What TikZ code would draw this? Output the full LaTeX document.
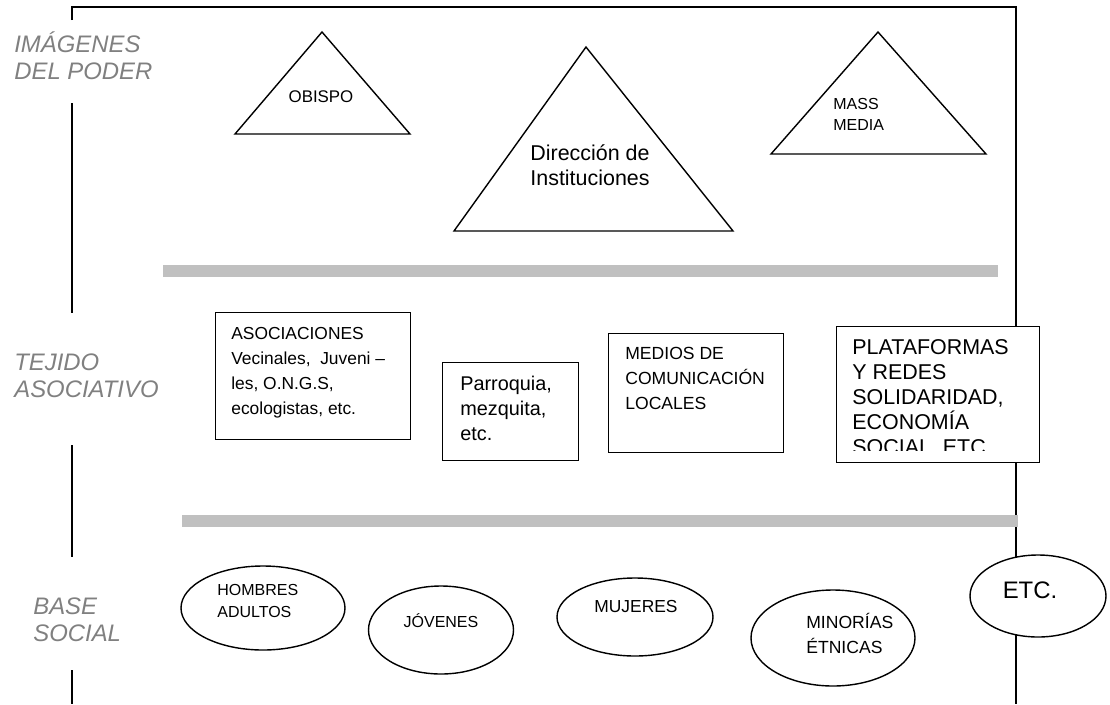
\documentclass[tikz,border=0pt]{standalone}
\usepackage{fontspec}
\setmainfont{Liberation Sans}
\usetikzlibrary{shapes.geometric}
\definecolor{barra}{RGB}{192,192,192}
\definecolor{etiq}{RGB}{128,128,128}
\newcommand{\pxu}{0.02cm}
\newcommand{\tam}[2]{\fontsize{#1pt}{#2pt}\selectfont}

\begin{document}
\begin{tikzpicture}[x=0.02cm,y=-0.02cm,
    caja/.style={draw,fill=white,line width=0.8pt,inner sep=0pt,anchor=north west},
    globo/.style={draw,fill=white,ellipse,line width=0.8pt,inner sep=0pt},
    nivel/.style={font=\tam{13.6}{15.3}\itshape,text=etiq,align=left,anchor=west,inner sep=0pt},
    texto/.style={inner sep=0pt,align=left}]
                \useasboundingbox (0,0) rectangle (1110,704);
                %frame
                \draw[line width=0.6pt] (72,20) -- (72,7) -- (1016,7) -- (1016,704);
                \draw[line width=0.8pt] (72,103) -- (72,313)
                                        (72,445) -- (72,557)
                                        (72,670) -- (72,704);
                %levels
                \node[nivel] (poder) at (14,56) {IMÁGENES\\DEL PODER};
                \node[nivel] (tejido) at (14,376) {TEJIDO\\ASOCIATIVO};
                \node[nivel] (base) at (33,620) {BASE\\SOCIAL};
                %triangles
                \draw[line width=0.8pt] (322,32) -- (410,134) -- (235,134) -- cycle;
                \node[texto,font=\tam{9.6}{12}] (obispo) at (321,97) {OBISPO};
                \draw[line width=0.8pt] (586,47) -- (733,231) -- (454,231) -- cycle;
                \node[texto,align=center,font=\tam{12.2}{14.2}] (direccion) at (590,165) {Dirección de\\Instituciones};
                \draw[line width=0.8pt] (878,32) -- (986,154) -- (771,154) -- cycle;
                \node[texto,anchor=west,font=\tam{9.1}{11.9}] (media) at (833,114) {MASS\\MEDIA};
                %bars
                \foreach \a/\b/\y in {163/998/271,182/1018/521}
                    \draw[barra,line width=6.8pt] (\a,\y) -- (\b,\y);
                %boxes
                \node[caja,minimum width=195*\pxu,minimum height=127*\pxu] (asoc) at (215,312) {};
                \node[texto,anchor=north west,font=\tam{9.9}{14.2}] (asoctxt) at (231,327)
                    {ASOCIACIONES\\Vecinales,\ \ Juveni –\\les, O.N.G.S,\\ecologistas, etc.};
                \node[caja,minimum width=136*\pxu,minimum height=98*\pxu] (parroquia) at (442,362) {};
                \node[texto,anchor=north west,font=\tam{11.3}{14.2}] (parrtxt) at (460,376)
                    {Parroquia,\\mezquita,\\etc.};
                \node[caja,minimum width=175*\pxu,minimum height=119*\pxu] (medios) at (608,333) {};
                \node[texto,anchor=north west,font=\tam{10}{14.2}] (mediostxt) at (625,347)
                    {MEDIOS DE\\COMUNICACIÓN\\LOCALES};
                \node[caja,minimum width=203*\pxu,minimum height=136*\pxu] (plataformas) at (836,326) {};
                \begin{scope}
                    \clip (836,326) rectangle (1039,450);
                    \node[texto,anchor=north west,font=\tam{12.2}{14.2}] (plattxt) at (852,339)
                        {PLATAFORMAS\\Y REDES\\SOLIDARIDAD,\\ECONOMÍA\\SOCIAL, ETC.};
                \end{scope}
                %ellipses
                \node[globo,minimum width=164*\pxu,minimum height=84*\pxu] (hombres) at (263,608) {};
                \node[texto,anchor=west,font=\tam{9.1}{13}] (hombrestxt) at (217,601) {HOMBRES\\ADULTOS};
                \node[globo,minimum width=145*\pxu,minimum height=88*\pxu] (jovenes) at (441,630) {};
                \node[texto,font=\tam{9.1}{13}] (jovenestxt) at (441,621) {JÓVENES};
                \node[globo,minimum width=156*\pxu,minimum height=78*\pxu] (mujeres) at (635,617) {};
                \node[texto,font=\tam{9.9}{13}] (mujerestxt) at (636,607) {MUJERES};
                \node[globo,minimum width=164*\pxu,minimum height=96*\pxu] (minorias) at (833,638) {};
                \node[texto,anchor=west,font=\tam{10}{14.2}] (minoriastxt) at (806,633) {MINORÍAS\\ÉTNICAS};
                \node[globo,minimum width=136*\pxu,minimum height=82*\pxu] (etc) at (1038,596) {};
                \node[texto,font=\tam{13.6}{15}] (etctxt) at (1030,590) {ETC.};
\end{tikzpicture}
\end{document}
